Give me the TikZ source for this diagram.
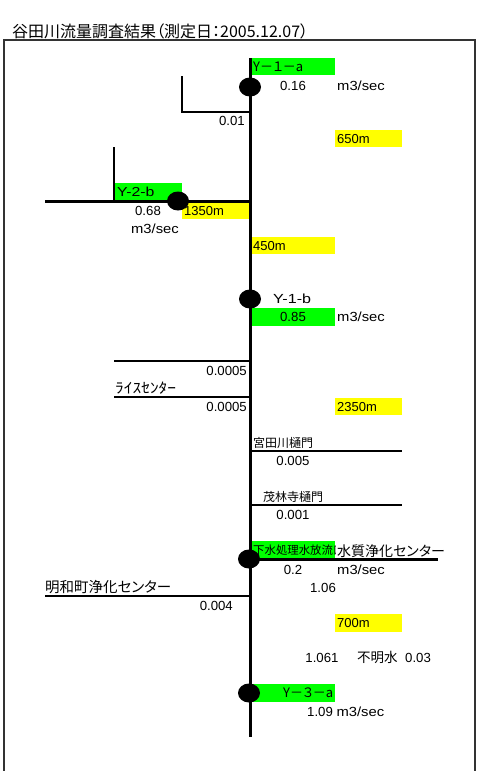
\documentclass[tikz,border=0pt]{standalone}
\usepackage{fontspec}
\setmainfont{Liberation Sans}
\newfontfamily\jp[RawFeature={+palt}]{Noto Sans CJK JP}
\newfontfamily\jpn{Noto Sans CJK JP}
\usetikzlibrary{shapes.geometric}
\definecolor{gbright}{HTML}{00FF00}
\definecolor{ybright}{HTML}{FFFF00}
\newcommand{\wx}[2]{\scalebox{#1}[1]{#2}}
\begin{document}
\begin{tikzpicture}[x=1pt,y=-1pt,
  lbl/.style={inner sep=0pt, font=\fontsize{13.2}{14}\selectfont},
  blbl/.style={inner sep=0pt, font=\fontsize{13}{14}\selectfont},
  jlbl/.style={inner sep=0pt, font=\jp\fontsize{12}{13}\selectfont},
  jbig/.style={inner sep=0pt, font=\jp\fontsize{14.5}{15}\selectfont},
  gbox/.style={fill=gbright, inner sep=0pt, anchor=north west},
  ybox/.style={fill=ybright, inner sep=0pt, anchor=north west},
  dot/.style={ellipse, fill=black, minimum width=22, minimum height=19, inner sep=0pt},
  river/.style={line width=3},
  branch/.style={line width=2.2}]
\useasboundingbox (0,0) rectangle (478,771);
\clip (0,0) rectangle (478,771);
\fill[white] (0,0) rectangle (478,771);
% title
\node[inner sep=0pt, anchor=west, font=\jp\fontsize{16}{17}\selectfont] (title) at (12,31) {谷田川流量調査結果（測定日：2005.12.07）};
% frame
\draw[line width=1.3, black!80] (4,40) rectangle (475,790);
% boxes
\node[gbox, minimum width=84, minimum height=17] (y1a) at (251,58) {};
\node[gbox, minimum width=67, minimum height=17] (y2b) at (115,183) {};
\node[gbox, minimum width=84, minimum height=18] (y1b) at (251,308) {};
\node[gbox, minimum width=84, minimum height=17] (gesui) at (251,541) {};
\node[gbox, minimum width=84, minimum height=18] (y3a) at (251,684) {};
\node[ybox, minimum width=67, minimum height=17] (d650) at (335,130) {};
\node[ybox, minimum width=67, minimum height=16] (d1350) at (182,203) {};
\node[ybox, minimum width=84, minimum height=17] (d450) at (251,237) {};
\node[ybox, minimum width=67, minimum height=17] (d2350) at (335,398) {};
\node[ybox, minimum width=67, minimum height=18] (d700) at (335,614) {};
% coordinates
\coordinate (top) at (250,58);
\coordinate (bot) at (250,737);
\coordinate (b1a) at (182,76);
\coordinate (b1b) at (182,112);
\coordinate (b1c) at (250,112);
\coordinate (b2a) at (114,147);
\coordinate (b2b) at (114,201);
\coordinate (b2l) at (45,201);
\coordinate (b2r) at (250,201);
\coordinate (r1l) at (114,361);
\coordinate (r1r) at (250,361);
\coordinate (r2l) at (114,397);
\coordinate (r2r) at (250,397);
\coordinate (m1l) at (250,451);
\coordinate (m1r) at (402,451);
\coordinate (m2l) at (250,505);
\coordinate (m2r) at (402,505);
\coordinate (s1l) at (250,559);
\coordinate (s1r) at (438,559);
\coordinate (s2l) at (45,596);
\coordinate (s2r) at (250,596);
% lines
\draw[river] (top) -- (bot);
\draw[branch] (b1a) -- (b1b) -- (b1c);
\draw[line width=2.5] (b2a) -- (b2b);
\draw[river] (b2l) -- (b2r);
\draw[branch] (r1l) -- (r1r);
\draw[branch] (r2l) -- (r2r);
\draw[line width=2.5] (m1l) -- (m1r);
\draw[line width=2.5] (m2l) -- (m2r);
\draw[river] (s1l) -- (s1r);
\draw[line width=2.5] (s2l) -- (s2r);
% box texts
\node[jlbl, anchor=west, font=\jp\fontsize{13}{14}\selectfont] (ty1a) at ([xshift=2]y1a.west) {Y－１－a};
\node[blbl, anchor=west] (ty2b) at ([xshift=2]y2b.west) {\wx{1.22}{Y-2-b}};
\node[lbl] (ty1b) at (293,317) {0.85};
\begin{scope}
\clip (gesui.south west) rectangle (gesui.north east);
\node[inner sep=0pt, anchor=west, font=\jpn\fontsize{11.4}{12}\selectfont] (tgesui) at ([xshift=2]gesui.west) {下水処理水放流口};
\end{scope}
\node[jlbl, anchor=east, font=\jp\fontsize{13}{14}\selectfont] (ty3a) at ([xshift=-2]y3a.east) {Y－３－a};
\node[blbl, anchor=west] (t650) at ([xshift=2]d650.west) {650m};
\node[blbl, anchor=west] (t1350) at ([xshift=2]d1350.west) {1350m};
\node[blbl, anchor=west] (t450) at ([xshift=2]d450.west) {450m};
\node[blbl, anchor=west] (t2350) at ([xshift=2]d2350.west) {2350m};
\node[blbl, anchor=west] (t700) at ([xshift=2]d700.west) {700m};
% dots
\node[dot] (p1) at (250,87) {};
\node[dot] (p2) at (178,201) {};
\node[dot] (p3) at (250,299) {};
\node[dot] (p4) at (249,559) {};
\node[dot] (p5) at (249,693) {};
% labels
\node[lbl] (v016) at (293,86) {0.16};
\node[lbl, anchor=west] (u1) at (337,86) {\wx{1.12}{m3/sec}};
\node[lbl, anchor=east] (v001) at (245,121) {0.01};
\node[lbl] (v068) at (148,211) {0.68};
\node[lbl] (u2) at (155,229) {\wx{1.12}{m3/sec}};
\node[lbl, anchor=west] (ny1b) at (273,299) {\wx{1.22}{Y-1-b}};
\node[lbl, anchor=west] (u3) at (337,317) {\wx{1.12}{m3/sec}};
\node[lbl, anchor=east] (v0005a) at (247,371) {0.0005};
\node[inner sep=0pt, anchor=west, font=\jpn\fontsize{14.5}{15}\selectfont] (rice) at (115,388) {\wx{1.2}{ﾗｲｽｾﾝﾀｰ}};
\node[lbl, anchor=east] (v0005b) at (247,407) {0.0005};
\node[jlbl, anchor=west] (miyata) at (253,443) {宮田川樋門};
\node[lbl] (v0005c) at (293,461) {0.005};
\node[jlbl, anchor=west] (morin) at (263,497) {茂林寺樋門};
\node[lbl] (v0001) at (293,515) {0.001};
\node[jbig, anchor=west, font=\jp\fontsize{14}{15}\selectfont] (suishitsu) at (337,551) {水質浄化センター};
\node[lbl] (v02) at (293,570) {0.2};
\node[lbl, anchor=west] (u4) at (337,570) {\wx{1.12}{m3/sec}};
\node[lbl] (v106) at (323,588) {1.06};
\node[jbig, anchor=west] (meiwa) at (45,587) {明和町浄化センター};
\node[lbl, anchor=east] (v0004) at (233,606) {0.004};
\node[lbl] (v1061) at (322,658) {1.061};
\node[jbig, anchor=west, font=\jp\fontsize{13.5}{14}\selectfont] (fumei) at (357,657) {不明水};
\node[lbl, anchor=west] (v003) at (405,658) {0.03};
\node[lbl, anchor=west] (v109) at (307,712) {1.09 \wx{1.12}{m3/sec}};
\end{tikzpicture}
\end{document}
